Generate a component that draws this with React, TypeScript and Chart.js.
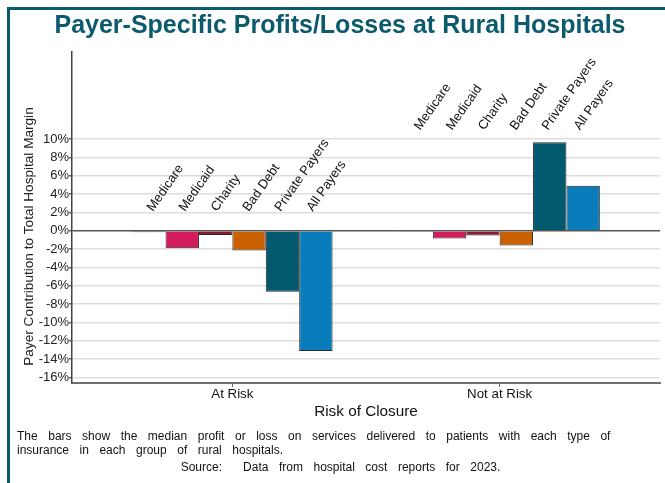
import React, { useEffect, useRef } from "react";
import { Chart, registerables } from "chart.js";

Chart.register(...registerables);

const categories = ["At Risk", "Not at Risk"];
const payers = ["Medicare", "Medicaid", "Charity", "Bad Debt", "Private Payers", "All Payers"];
const medicare = [-0.15, -0.1];
const medicaid = [-1.9, -0.85];
const charity = [-0.45, -0.5];
const badDebt = [-2.15, -1.6];
const privatePayers = [-6.65, 9.65];
const allPayers = [-13.1, 4.9];
const yTickValues = [-16, -14, -12, -10, -8, -6, -4, -2, 0, 2, 4, 6, 8, 10];

const seriesValues = [medicare, medicaid, charity, badDebt, privatePayers, allPayers];
const seriesColors = ["#0b3f4c", "#d41b5e", "#8b1a30", "#c96100", "#03596d", "#097dbb"];

const SANS = '"Liberation Sans", Arial, sans-serif';
const TEAL = "#0b5b6d";

const labelPlugin = {
  id: "barLabels",
  afterDatasetsDraw(chart: any) {
    const ctx = chart.ctx;
    const yScale = chart.scales.y;
    const xScale = chart.scales.x;
    const area = chart.chartArea;
    ctx.save();
    // payer labels above each group
    ctx.font = `13px ${SANS}`;
    ctx.fillStyle = "#111";
    ctx.textAlign = "left";
    ctx.textBaseline = "alphabetic";
    categories.forEach((_, j) => {
      const groupMax = Math.max(...seriesValues.map((s) => s[j]));
      const level = Math.max(groupMax, 0.8) + 1.25;
      const py = yScale.getPixelForValue(level);
      const gx = xScale.getPixelForValue(j);
      chart.data.datasets.forEach((ds: any, i: number) => {
        const el = chart.getDatasetMeta(i).data[j];
        const lx = gx + (el.x - gx) * 0.955 + 0.5;
        ctx.save();
        ctx.translate(lx, py);
        ctx.rotate((-55 * Math.PI) / 180);
        ctx.fillText(ds.label, 0, 0);
        ctx.restore();
      });
    });
    // category labels
    ctx.font = `13.3px ${SANS}`;
    ctx.textAlign = "center";
    ctx.fillStyle = "#111";
    categories.forEach((c, j) => {
      ctx.fillText(c, xScale.getPixelForValue(j), area.bottom + 15);
    });
    // x-axis title
    ctx.font = `15.3px ${SANS}`;
    ctx.fillText("Risk of Closure", (area.left + area.right) / 2, area.bottom + 32.5);
    // y-axis title
    ctx.save();
    ctx.translate(29.5, 236.5);
    ctx.rotate(-Math.PI / 2);
    ctx.textAlign = "center";
    ctx.textBaseline = "middle";
    ctx.font = `13.6px ${SANS}`;
    ctx.fillStyle = "#222";
    ctx.fillText("Payer Contribution to Total Hospital Margin", 0, 0);
    ctx.restore();
    ctx.restore();
  },
};

export default function App() {
  const canvasRef = useRef<HTMLCanvasElement | null>(null);

  useEffect(() => {
    const canvas = canvasRef.current;
    if (!canvas) return;
    const chart = new Chart(canvas, {
      type: "bar",
      data: {
        datasets: payers.map((name, i) => ({
          label: name,
          data: seriesValues[i].map((v, j) => ({ x: j, y: v })),
          backgroundColor: seriesColors[i],
          borderColor: "#2a2a2a",
          borderWidth: 1,
          categoryPercentage: 0.75,
          barPercentage: 1,
        })),
      },
      options: {
        animation: false,
        responsive: false,
        maintainAspectRatio: false,
        layout: { padding: { left: 0, top: 52, right: 5, bottom: 80 } },
        plugins: {
          legend: { display: false },
          tooltip: { enabled: false },
          title: { display: false },
        },
        scales: {
          x: {
            type: "linear",
            min: -0.6,
            max: 1.6,
            offset: false,
            afterBuildTicks: (scale: any) => {
              scale.ticks = categories.map((_, j) => ({ value: j }));
            },
            afterFit: (scale: any) => {
              scale.height = 20;
            },
            ticks: { display: false, autoSkip: false },
            grid: {
              drawOnChartArea: false,
              drawTicks: true,
              tickLength: 4,
              tickColor: "#666",
              offset: false,
            },
            border: { display: true, color: "#6e6e6e", width: 2 },
            title: { display: false },
          },
          y: {
            type: "linear",
            min: -16.6,
            max: 19.5,
            afterBuildTicks: (scale: any) => {
              scale.ticks = yTickValues.map((v) => ({ value: v }));
            },
            afterFit: (scale: any) => {
              scale.width = 72;
            },
            ticks: {
              autoSkip: false,
              padding: 0,
              color: "#222",
              font: { family: SANS, size: 13 },
              callback: (v: any) => `${v}%`,
            },
            grid: {
              drawTicks: true,
              tickLength: 3,
              color: (c: any) => (c.tick && c.tick.value === 0 ? "#555" : "#dedede"),
              lineWidth: 1.5,
              tickColor: "#666",
            },
            border: { display: true, color: "#444", width: 1.5 },
          },
        },
      },
      plugins: [labelPlugin],
    } as any);
    return () => chart.destroy();
  }, []);

  const footStyle: React.CSSProperties = {
    position: "absolute",
    fontFamily: SANS,
    fontSize: 12,
    lineHeight: "13.5px",
    color: "#111",
    wordSpacing: 7.2,
    whiteSpace: "pre",
  };

  return (
    <div
      style={{
        position: "fixed",
        left: 0,
        top: 0,
        width: 665,
        height: 483,
        background: "#fff",
        overflow: "hidden",
      }}
    >
      <div
        style={{
          position: "absolute",
          left: 7,
          top: 7,
          right: 0,
          bottom: 0,
          borderTop: `3px solid ${TEAL}`,
          borderLeft: `3px solid ${TEAL}`,
        }}
      />
      <canvas
        ref={canvasRef}
        width={665}
        height={483}
        style={{ position: "absolute", left: 0, top: 0, width: 665, height: 483 }}
      />
      <div
        style={{
          position: "absolute",
          left: 0,
          width: 680,
          top: 12,
          textAlign: "center",
          fontFamily: SANS,
          fontWeight: "bold",
          fontSize: 25,
          lineHeight: "25px",
          color: TEAL,
          whiteSpace: "nowrap",
        }}
      >
        Payer-Specific Profits/Losses at Rural Hospitals
      </div>
      <div style={{ ...footStyle, left: 17, top: 430 }}>
        {"The bars show the median profit or loss on services delivered to patients with each type of"}
      </div>
      <div style={{ ...footStyle, left: 17, top: 443.5 }}>
        {"insurance in each group of rural hospitals."}
      </div>
      <div style={{ ...footStyle, left: 0, width: 681, top: 461, textAlign: "center" }}>
        {"Source:  Data from hospital cost reports for 2023."}
      </div>
    </div>
  );
}
